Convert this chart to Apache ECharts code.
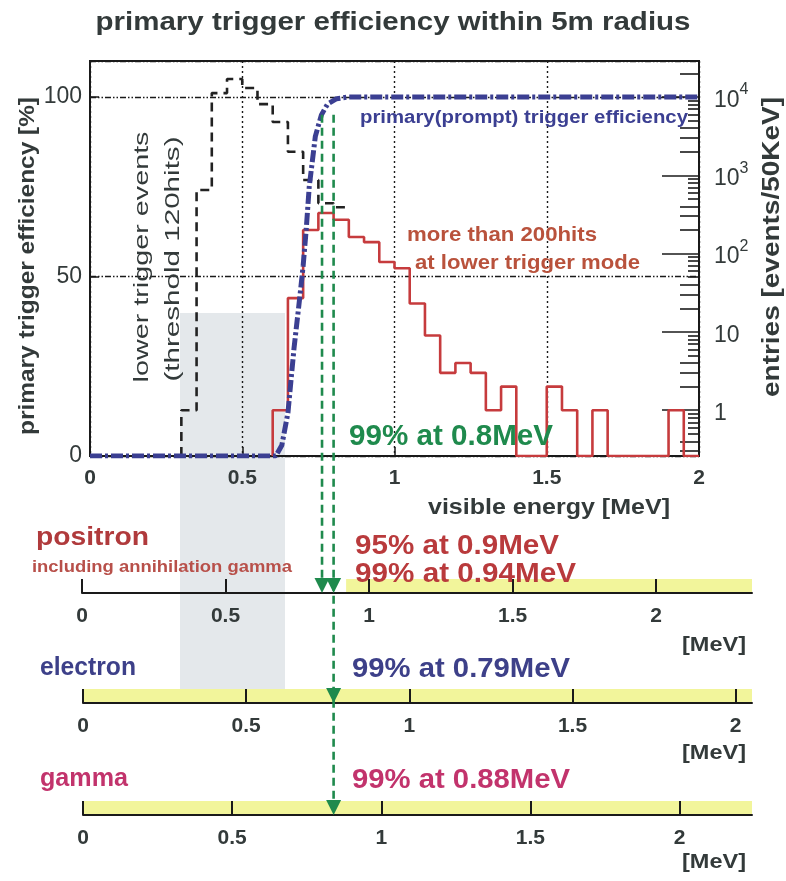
<!DOCTYPE html>
<html>
<head>
<meta charset="utf-8">
<script src="https://cdn.jsdelivr.net/npm/echarts@6/dist/echarts.min.js"></script>
<style>
  html, body { margin: 0; background: #fff; }
  #chart { width: 786px; height: 881px; }
</style>
</head>
<body>
<div id="chart"></div>
<script>
// primary (prompt) trigger efficiency [%] vs visible energy [MeV]
const effEnergy = [0, 0.61, 0.63, 0.65, 0.67, 0.69, 0.70, 0.71, 0.72, 0.74, 0.76, 0.78, 0.81, 0.85, 2.0]
const effValue = [0, 0, 3, 12, 30, 45, 53, 63, 75, 89, 95, 98, 99.5, 100, 100]

// histograms, 50 keV bins, entries per bin (0 = empty bin)
const binWidth = 0.05
const lowerTrigStart = 0.30
const lowerTrigCounts = [1, 650, 11200, 17000, 13000, 8100, 4800, 2000, 870, 440, 390]
const hitsStart = 0.60
const hitsCounts = [1, 27, 200, 330, 270, 163, 140, 78, 65, 23, 9, 3, 4, 3, 1, 2,
  0, 0, 2, 1, 0, 1, 0, 0, 0, 0, 1, 0]

// right log axis ticks
const logMajor = [1, 10, 100, 1000, 10000]
const logMinorLong = [0.3, 0.4, 2, 3, 4, 20, 30, 40, 200, 300, 400, 2000, 3000, 4000, 20000]
const logMinorShort = [0.5, 0.6, 0.7, 0.8, 0.9, 5, 6, 7, 8, 9, 50, 60, 70, 80, 90,
  500, 600, 700, 800, 900, 5000, 6000, 7000, 8000, 9000]

// 99% lines (main plot energy) and the last lower axis each one reaches
const arrowEnergy = [0.762, 0.80]
const arrowLastAxis = [0, 2]

// lower energy axes: positron, electron, gamma
const lowerTicks = [0, 0.5, 1, 1.5, 2]
const lowerMax = [2.334, 2.05, 2.243]
const bandFrom = [0.92, 0, 0]

// layout
const LOG_MIN = 0.26
const LOG_MAX = 28800
const MAIN = { left: 90, top: 61, width: 609, height: 395 }
const LOWER_Y = [593, 703, 815]
const LOWER_LEFT = [82, 83, 83]
const LOWER_RIGHT = 752
const BAND_H = 14
const ARROW_H = 15
const GREEN_TOP = 95

const FONT = '"Liberation Sans", Arial, sans-serif'
const INK = '#333a3a'
const GREEN = '#1f8a4d'
const BLUE = '#3b3f92'
const RED = '#c63b3d'

function histPoints(start, counts) {
  const floor = (c) => (c > 0 ? c : LOG_MIN)
  const pts = [[start, LOG_MIN]]
  counts.forEach((c, i) => pts.push([+(start + i * binWidth).toFixed(3), floor(c)]))
  pts.push([+(start + counts.length * binWidth).toFixed(3), floor(counts[counts.length - 1])])
  return pts
}

// text helper: stretch horizontally so the string spans the measured width
const measureCtx = document.createElement('canvas').getContext('2d')
function label(text, x, y, opt) {
  const weight = opt.bold ? 'bold' : 'normal'
  const font = `${weight} ${opt.size}px ${FONT}`
  measureCtx.font = font
  const w = measureCtx.measureText(text).width
  const scale = opt.width ? opt.width / w : 1
  const align = opt.align || 'left'
  return {
    type: 'text',
    x, y,
    rotation: opt.rotate || 0,
    scaleX: scale,
    z: 20,
    style: {
      text, font, fill: opt.color || INK,
      textAlign: align, align,
      textVerticalAlign: 'middle', verticalAlign: 'middle',
    },
  }
}

const graphics = [
  // grey halftone patch of the scanned sheet
  { type: 'rect', z: -10, shape: { x: 180, y: 313, width: 105, height: 387 }, style: { fill: '#e4e8eb' } },
  label('primary trigger efficiency within 5m radius', 393, 23, { size: 26, bold: true, width: 595, align: 'center' }),
  label('primary trigger efficiency [%]', 28, 266, { size: 22, bold: true, width: 338, align: 'center', rotate: Math.PI / 2 }),
  label('entries [events/50KeV]', 773, 247, { size: 23, bold: true, width: 300, align: 'center', rotate: Math.PI / 2 }),
  label('lower trigger events', 142, 257, { size: 21, width: 251, align: 'center', rotate: Math.PI / 2 }),
  label('(threshold 120hits)', 173, 259, { size: 21, width: 245, align: 'center', rotate: Math.PI / 2 }),
  label('primary(prompt) trigger efficiency', 360, 118, { size: 18, bold: true, width: 328, color: BLUE }),
  label('more than 200hits', 407, 235, { size: 21, bold: true, width: 190, color: '#b9523c' }),
  label('at lower trigger mode', 415, 263, { size: 21, bold: true, width: 225, color: '#b9523c' }),
  label('99% at 0.8MeV', 349, 437, { size: 29, bold: true, width: 204, color: GREEN }),
  label('visible energy [MeV]', 428, 508, { size: 22, bold: true, width: 242 }),
  label('positron', 36, 538, { size: 25, bold: true, width: 113, color: '#b03a3c' }),
  label('including annihilation gamma', 32, 568, { size: 16, bold: true, width: 260, color: '#b8504a' }),
  label('95% at 0.9MeV', 355, 547, { size: 27, bold: true, width: 204, color: '#b93a3c' }),
  label('99% at 0.94MeV', 355, 575, { size: 27, bold: true, width: 221, color: '#b93a3c' }),
  label('electron', 40, 668, { size: 25, bold: true, width: 96, color: '#3d4089' }),
  label('99% at 0.79MeV', 352, 670, { size: 27, bold: true, width: 218, color: '#3d4089' }),
  label('gamma', 40, 779, { size: 25, bold: true, width: 88, color: '#c2336c' }),
  label('99% at 0.88MeV', 352, 781, { size: 27, bold: true, width: 218, color: '#c2336c' }),
  label('[MeV]', 714, 645, { size: 20, bold: true, width: 64, align: 'center' }),
  label('[MeV]', 714, 753, { size: 20, bold: true, width: 64, align: 'center' }),
  label('[MeV]', 714, 862, { size: 20, bold: true, width: 64, align: 'center' }),
]

const tickLabel = { fontFamily: FONT, fontWeight: 'bold', fontSize: 21, color: INK }

const lowerGrids = LOWER_Y.map((y, i) => ({
  left: LOWER_LEFT[i], top: y - BAND_H, width: LOWER_RIGHT - LOWER_LEFT[i], height: BAND_H,
}))

const lowerXAxes = lowerMax.map((max, i) => ({
  type: 'value', gridIndex: i + 1, min: 0, max, z: 5,
  axisLine: { onZero: false, lineStyle: { color: '#1a1a1a', width: 2 } },
  axisTick: { inside: true, length: BAND_H, customValues: lowerTicks, lineStyle: { color: '#1a1a1a', width: 2 } },
  axisLabel: { customValues: lowerTicks, margin: 13, ...tickLabel },
  splitLine: { show: false },
}))

const lowerYAxes = lowerMax.map((_, i) => ({ type: 'value', gridIndex: i + 1, min: 0, max: 1, show: false }))

const logAxis = (values, length, showLabel) => ({
  type: 'log', gridIndex: 0, position: 'right', min: LOG_MIN, max: LOG_MAX,
  axisLine: { show: false },
  axisTick: { inside: true, length, customValues: values, lineStyle: { color: '#1a1a1a', width: 1.6 } },
  axisLabel: showLabel ? {
    customValues: values, margin: 15, color: INK,
    formatter: (v) => (v >= 100 ? `{b|10}{s|${Math.round(Math.log10(v))}}` : `{b|${v}}`),
    rich: {
      b: { fontFamily: FONT, fontSize: 23, color: INK, lineHeight: 30, verticalAlign: 'bottom' },
      s: { fontFamily: FONT, fontSize: 16, color: INK, lineHeight: 16, verticalAlign: 'top' },
    },
  } : { show: false },
  splitLine: { show: false },
})

const option = {
  animation: false,
  backgroundColor: '#fff',
  graphic: graphics,
  grid: [
    { ...MAIN, show: true, borderColor: '#1a1a1a', borderWidth: 2, backgroundColor: 'transparent' },
    ...lowerGrids,
  ],
  xAxis: [
    {
      type: 'value', gridIndex: 0, min: 0, max: 2, interval: 0.5,
      axisLine: { onZero: false, lineStyle: { color: '#1a1a1a', width: 2 } },
      axisTick: { inside: true, length: 9, lineStyle: { color: '#1a1a1a', width: 1.5 } },
      axisLabel: { margin: 12, ...tickLabel },
      splitLine: { show: true, lineStyle: { color: '#1a1a1a', width: 1.4, type: [2, 3] } },
    },
    ...lowerXAxes,
  ],
  yAxis: [
    {
      type: 'value', gridIndex: 0, min: 0, max: 110, interval: 50,
      axisLine: { lineStyle: { color: '#1a1a1a', width: 2 } },
      axisTick: { inside: true, length: 9, lineStyle: { color: '#1a1a1a', width: 1.5 } },
      axisLabel: { margin: 8, showMaxLabel: false, fontFamily: FONT, fontSize: 23, color: INK },
      splitLine: { show: true, lineStyle: { color: '#1a1a1a', width: 1.4, type: [6, 2, 1.5, 2, 1.5, 2] } },
    },
    logAxis(logMajor, 37, true),
    logAxis(logMinorLong, 19, false),
    logAxis(logMinorShort, 11, false),
    ...lowerYAxes,
  ],
  series: [
    {
      name: 'lower trigger events', type: 'line', step: 'end', xAxisIndex: 0, yAxisIndex: 1,
      data: histPoints(lowerTrigStart, lowerTrigCounts), symbol: 'none', z: 3,
      lineStyle: { color: '#222', width: 2.6, type: [9, 6] },
    },
    {
      name: 'more than 200hits', type: 'line', step: 'end', xAxisIndex: 0, yAxisIndex: 1,
      data: histPoints(hitsStart, hitsCounts), symbol: 'none', z: 3,
      lineStyle: { color: RED, width: 2.6 },
    },
    {
      name: 'primary trigger efficiency', type: 'line', xAxisIndex: 0, yAxisIndex: 0,
      data: effEnergy.map((e, i) => [e, effValue[i]]), symbol: 'none', z: 4,
      lineStyle: { color: BLUE, width: 5, type: [12, 3, 3, 3] },
    },
    {
      type: 'custom', xAxisIndex: 0, yAxisIndex: 0, clip: false, z: 6,
      data: arrowEnergy.map((e, i) => [e, arrowLastAxis[i]]),
      renderItem(params, api) {
        const [x, yTop] = api.coord([api.value(0), GREEN_TOP])
        const last = api.value(1)
        const children = [{
          type: 'line',
          shape: { x1: x, y1: yTop, x2: x, y2: LOWER_Y[last] - ARROW_H },
          style: { stroke: GREEN, lineWidth: 2.6, lineDash: [8, 5] },
        }]
        for (let j = 0; j <= last; j++) {
          const y = LOWER_Y[j]
          children.push({
            type: 'polygon',
            shape: { points: [[x - 7.5, y - ARROW_H], [x + 7.5, y - ARROW_H], [x, y]] },
            style: { fill: GREEN },
          })
        }
        return { type: 'group', children }
      },
    },
    ...bandFrom.map((from, j) => ({
      type: 'custom', xAxisIndex: j + 1, yAxisIndex: j + 4, z: 1,
      data: [[from, lowerMax[j]]],
      renderItem(params, api) {
        const cs = params.coordSys
        const a = api.coord([api.value(0), 0])
        const b = api.coord([api.value(1), 0])
        return {
          type: 'rect',
          shape: { x: a[0], y: cs.y, width: b[0] - a[0], height: cs.height },
          style: { fill: '#f2f59b' },
        }
      },
    })),
  ],
}

const chart = echarts.init(document.getElementById('chart'), null, { renderer: 'canvas' })
chart.setOption(option)
</script>
</body>
</html>
